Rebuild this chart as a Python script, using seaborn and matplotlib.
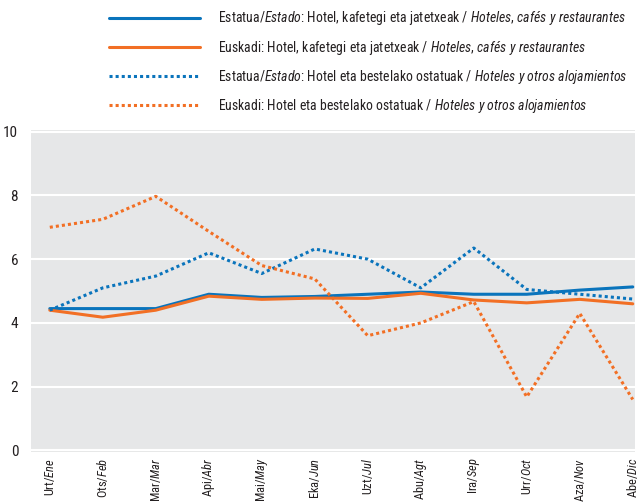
import matplotlib

matplotlib.use("Agg")
import matplotlib.pyplot as plt
import pandas as pd
import seaborn as sns

# --- data ---
months = ["Urt/$\\mathit{Ene}$", "Ots/$\\mathit{Feb}$", "Mar/$\\mathit{Mar}$", "Api/$\\mathit{Abr}$",
          "Mai/$\\mathit{May}$", "Eka/$\\mathit{Jun}$", "Uzt/$\\mathit{Jul}$", "Abu/$\\mathit{Agt}$",
          "Ira/$\\mathit{Sep}$", "Urr/$\\mathit{Oct}$", "Aza/$\\mathit{Nov}$", "Abe/$\\mathit{Dic}$"]

estado_hcr = [4.45, 4.45, 4.45, 4.9, 4.8, 4.83, 4.9, 4.97, 4.9, 4.9, 5.03, 5.13]
euskadi_hcr = [4.4, 4.18, 4.4, 4.84, 4.74, 4.78, 4.77, 4.93, 4.72, 4.63, 4.74, 4.6]
estado_alo = [4.4, 5.1, 5.47, 6.2, 5.55, 6.32, 6.0, 5.1, 6.35, 5.05, 4.9, 4.75]
euskadi_alo = [7.0, 7.25, 7.97, 6.87, 5.8, 5.38, 3.6, 4.0, 4.67, 1.68, 4.3, 1.6]

labels = [
    "Estatua/$\\mathit{Estado}$: Hotel, kafetegi eta jatetxeak / $\\mathit{Hoteles{,}\\ cafés\\ y\\ restaurantes}$",
    "Euskadi: Hotel, kafetegi eta jatetxeak / $\\mathit{Hoteles{,}\\ cafés\\ y\\ restaurantes}$",
    "Estatua/$\\mathit{Estado}$: Hotel eta bestelako ostatuak / $\\mathit{Hoteles\\ y\\ otros\\ alojamientos}$",
    "Euskadi: Hotel eta bestelako ostatuak / $\\mathit{Hoteles\\ y\\ otros\\ alojamientos}$",
]
series = [estado_hcr, euskadi_hcr, estado_alo, euskadi_alo]

BLUE = "#0A74BC"
ORANGE = "#F26F24"

df = pd.concat(
    [pd.DataFrame({"x": range(len(months)), "value": vals, "serie": lab})
     for lab, vals in zip(labels, series)],
    ignore_index=True,
)

sns.set_style("white", {"axes.facecolor": "#E6E7E8"})
plt.rcParams["font.family"] = ["Roboto Condensed", "Liberation Sans", "DejaVu Sans"]
plt.rcParams["mathtext.fontset"] = "custom"
plt.rcParams["mathtext.rm"] = "Roboto Condensed"
plt.rcParams["mathtext.it"] = "Roboto Condensed:italic"
plt.rcParams["text.color"] = "#231F20"
plt.rcParams["xtick.color"] = "#231F20"
plt.rcParams["ytick.color"] = "#231F20"

fig = plt.figure(figsize=(6.4, 5.04), dpi=100)
ax = fig.add_axes([0.048, 0.103, 0.944, 0.639])

sns.lineplot(data=df, x="x", y="value", hue="serie", style="serie",
             palette=[BLUE, ORANGE, BLUE, ORANGE],
             dashes=[(None, None), (None, None), (1, 1), (1, 1)],
             linewidth=2.2, ax=ax, legend=True)

ax.set_xlim(-0.36, 11.04)
ax.set_ylim(-0.05, 10.05)
ax.set_yticks([0, 2, 4, 6, 8, 10])
ax.yaxis.grid(True, color="white", linewidth=1.5)
ax.set_axisbelow(True)
ax.set_xticks(range(len(months)))
ax.set_xticklabels(months, rotation=90, va="top", ha="center", fontsize=8.9)
ax.set_xticks([i + 0.5 for i in range(len(months) - 1)], minor=True)
ax.tick_params(axis="x", which="major", length=0, pad=4)
ax.tick_params(axis="x", which="minor", direction="in", length=6, color="white", width=1.2)
ax.tick_params(axis="y", length=0, labelsize=11, pad=9)
ax.set_xlabel("")
ax.set_ylabel("")
for s in ax.spines.values():
    s.set_visible(False)

handles, labs = ax.get_legend_handles_labels()
ax.get_legend().remove()
fig.legend(handles, labs, loc="upper left", bbox_to_anchor=(0.151, 1.006),
           frameon=False, fontsize=9.9, handlelength=6.6, handletextpad=1.3,
           labelspacing=0.82)

fig.savefig("out.png", dpi=100)
